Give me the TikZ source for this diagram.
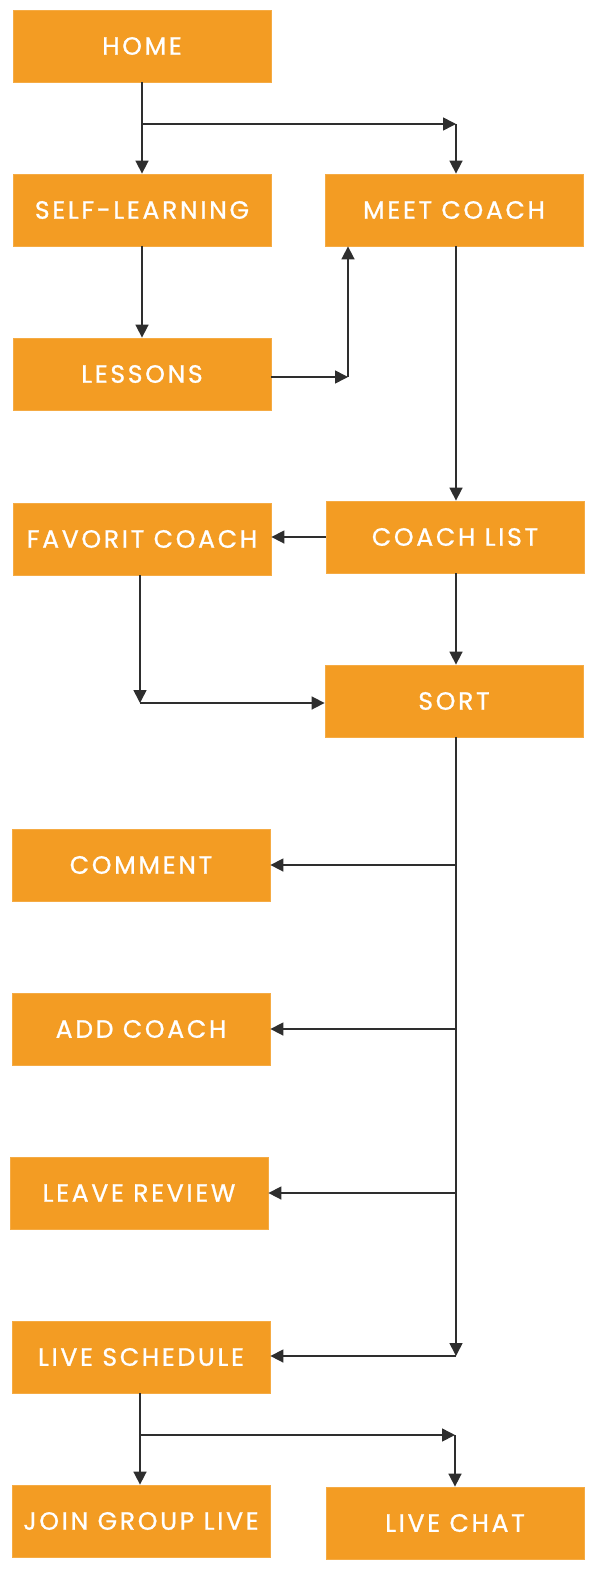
\documentclass[tikz,border=0pt]{standalone}
\usepackage{fontspec}
\setmainfont{Poppins}[LetterSpace=11,FakeBold=1]
\usetikzlibrary{arrows.meta}
\definecolor{boxorange}{HTML}{F39C23}
\definecolor{linegray}{HTML}{2E2E2E}
\tikzset{
  page/.style={x=1pt,y=-1pt},
  screen/.style={fill=boxorange,draw=boxorange!85!white,line width=0.8pt,
    minimum width=258pt,minimum height=72pt,inner sep=0pt,
    text=white,font=\fontsize{25}{29}\selectfont},
  link/.style={draw=linegray,line width=1.6pt,-{Triangle[length=13pt,width=13pt]}}
}
\begin{document}
\begin{tikzpicture}[page]
        \useasboundingbox (0,0) rectangle (600,1584);
        % Draw the screens
        \node[screen] (home) at (142,46) {HOME};
        \node[screen] (selflearn) at (142,210) {SELF-LEARNING};
        \node[screen] (meet) at (454,210) {MEET COACH};
        \node[screen] (lessons) at (142,374) {LESSONS};
        \node[screen] (favcoach) at (142,539) {FAVORIT COACH};
        \node[screen] (coachlist) at (455,537) {COACH LIST};
        \node[screen] (sort) at (454,701) {SORT};
        \node[screen] (comment) at (141,865) {COMMENT};
        \node[screen] (addcoach) at (141,1029) {ADD COACH};
        \node[screen] (review) at (139,1193) {LEAVE REVIEW};
        \node[screen] (schedule) at (141,1357) {LIVE SCHEDULE};
        \node[screen] (joinlive) at (141,1521) {JOIN GROUP LIVE};
        \node[screen] (livechat) at (455,1523) {LIVE CHAT};

        % Draw the links between the screens
        \coordinate (homefork) at (142,124);
        \coordinate (meetin) at (456,124);
        \draw[link] (home.south) -- (selflearn.north);
        \draw[link] (homefork) -- (meetin);
        \draw[link] (meetin) -- (meetin |- meet.north);
        \draw[link] (selflearn.south) -- (lessons.north);
        \coordinate (lessonsturn) at (348,377);
        \draw[link] (lessons.east |- lessonsturn) -- (lessonsturn);
        \draw[link] (lessonsturn) -- (lessonsturn |- meet.south);
        \draw[link] (meet.south -| meetin) -- (meetin |- coachlist.north);
        \draw[link] (coachlist.west) -- (favcoach.east |- coachlist.west);
        \draw[link] (coachlist.south -| meetin) -- (meetin |- sort.north);
        \coordinate (favturn) at (140,703);
        \draw[link] (favcoach.south -| favturn) -- (favturn);
        \draw[link] (favturn) -- (sort.west |- favturn);

        % Draw the sort trunk and its branches
        \coordinate (sortend) at (456,1356);
        \draw[link] (sort.south -| sortend) -- (sortend);
        \draw[link] (sortend |- comment.east) -- (comment.east);
        \draw[link] (sortend |- addcoach.east) -- (addcoach.east);
        \draw[link] (sortend |- review.east) -- (review.east);
        \draw[link] (sortend) -- (schedule.east |- sortend);

        % Draw the live schedule fork
        \coordinate (livefork) at (140,1435);
        \coordinate (chatin) at (455,1435);
        \draw[link] (schedule.south -| livefork) -- (livefork |- joinlive.north);
        \draw[link] (livefork) -- (chatin);
        \draw[link] (chatin) -- (chatin |- livechat.north);
    \end{tikzpicture}
\end{document}
